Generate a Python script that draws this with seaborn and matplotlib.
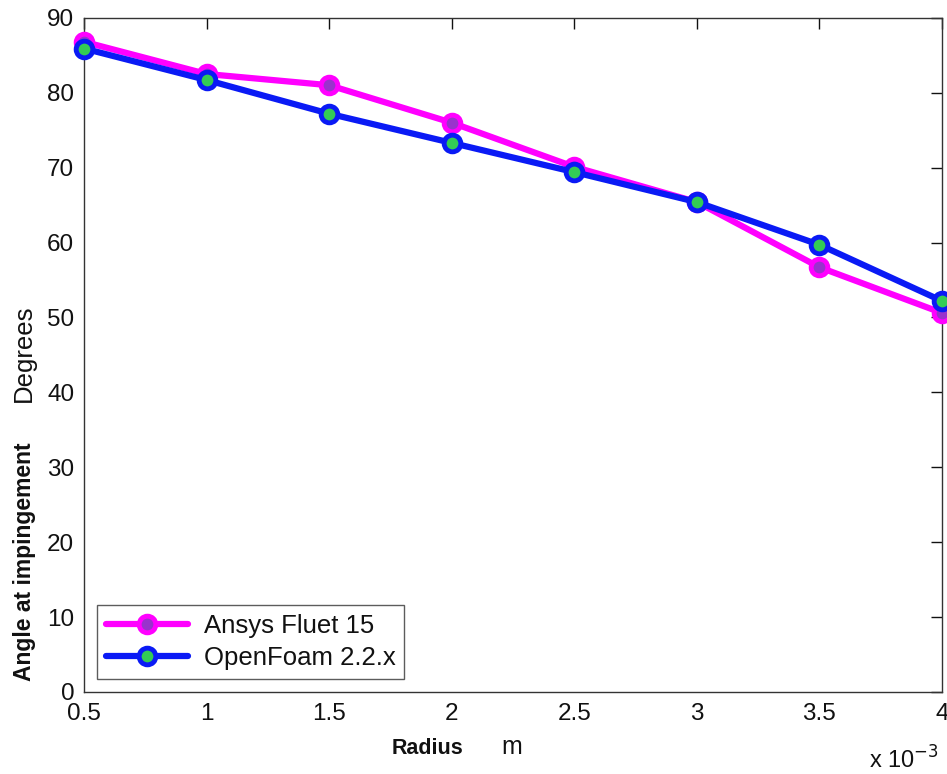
import numpy as np
import pandas as pd
import matplotlib
matplotlib.use("Agg")
import matplotlib.pyplot as plt
import seaborn as sns

radius_mm = [0.5, 1.0, 1.5, 2.0, 2.5, 3.0, 3.5, 4.0]
ansys = [86.8, 82.5, 81.0, 76.0, 70.1, 65.4, 56.7, 50.6]
openfoam = [85.9, 81.7, 77.2, 73.3, 69.4, 65.4, 59.7, 52.2]
series_names = ["Ansys Fluet 15", "OpenFoam 2.2.x"]
xtick_labels = ["0.5", "1", "1.5", "2", "2.5", "3", "3.5", "4"]
ytick_vals = [0, 10, 20, 30, 40, 50, 60, 70, 80, 90]

radius_m = [r * 1e-3 for r in radius_mm]
df = pd.DataFrame({
    "Radius": radius_m * 2,
    "Angle": ansys + openfoam,
    "Series": [series_names[0]] * len(ansys) + [series_names[1]] * len(openfoam),
})

sns.set_style("white")
plt.rcParams["font.family"] = ["Liberation Sans", "DejaVu Sans"]

fig = plt.figure(figsize=(9.47, 7.74), dpi=100)
ax = fig.add_axes([0.0887, 0.106, 0.906, 0.871])

styles = {
    series_names[0]: dict(color="#FF00FF", mfc="#9933CC", mec="#FF00FF"),
    series_names[1]: dict(color="#0A1AF5", mfc="#33CC55", mec="#0A1AF5"),
}
for name in series_names:
    st = styles[name]
    sub = df[df["Series"] == name]
    sns.lineplot(data=sub, x="Radius", y="Angle", ax=ax, color=st["color"],
                 linewidth=4.5, marker="o", markersize=12,
                 markerfacecolor=st["mfc"], markeredgecolor=st["mec"],
                 markeredgewidth=3.5, label=name, clip_on=False, zorder=3)

ax.set_xlim(0.5e-3, 4e-3)
ax.set_ylim(0, 90)
ax.set_xticks(radius_m)
ax.set_xticklabels(xtick_labels)
ax.set_yticks(ytick_vals)
ax.set_yticklabels([str(v) for v in ytick_vals])
ax.tick_params(direction="in", length=8, width=1, top=True, right=True,
               labelsize=17.5, colors="#111111")
ax.tick_params(axis="x", pad=8)
ax.tick_params(axis="y", pad=7)
for s in ax.spines.values():
    s.set_visible(True)
    s.set_color("#333333")
    s.set_linewidth(1)
ax.set_xlabel("")
ax.set_ylabel("")

# axis labels (MATLAB-style mixed bold/regular)
fig.text(427 / 947, 1 - 749 / 774, "Radius", fontsize=15.5, fontweight="bold",
         ha="center", va="center", color="#111111")
fig.text(512 / 947, 1 - 747 / 774, "m", fontsize=18, ha="center", va="center",
         color="#111111")
fig.text(24 / 947, 1 - 562 / 774, "Angle at impingement", fontsize=16.5,
         fontweight="bold", rotation=90, ha="center", va="center", color="#111111")
fig.text(24 / 947, 1 - 353 / 774, "Degrees", fontsize=18.5, rotation=90,
         ha="center", va="center", color="#111111")
fig.text(869 / 947, 1 - 760 / 774, r"x 10$^{-3}$", fontsize=17,
         ha="left", va="center", color="#111111")

leg = ax.legend(loc="lower left", fontsize=18.5, frameon=True, fancybox=False,
                edgecolor="#333333", handlelength=3.2, borderpad=0.35,
                labelspacing=0.3, handletextpad=0.6, borderaxespad=0,
                bbox_to_anchor=(0.015, 0.019))
leg.get_frame().set_linewidth(1)
for t in leg.get_texts():
    t.set_color("#111111")

fig.savefig("out.png", dpi=100, facecolor="white")
